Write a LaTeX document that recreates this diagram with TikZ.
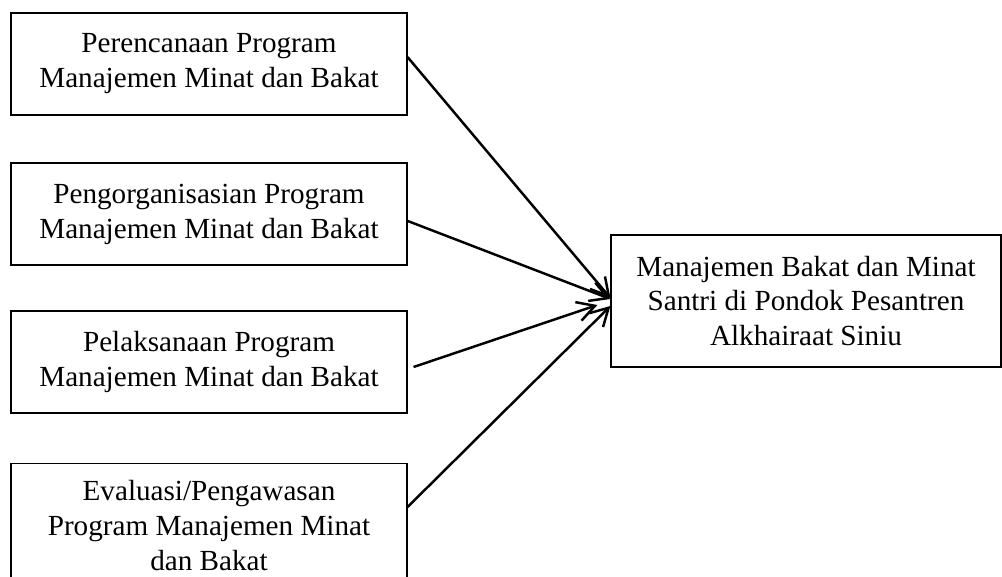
\documentclass[tikz,border=0pt]{standalone}
\usepackage{fontspec}
\setmainfont{Liberation Serif}
\usetikzlibrary{arrows.meta,calc,positioning}

\begin{document}
\begin{tikzpicture}[
  x=0.02cm, y=-0.02cm,
  font=\fontsize{16.6}{19.9}\selectfont,
  >={Straight Barb[length=0.35cm,width=0.39cm]},
  box/.style ={draw,rectangle,line width=0.7pt,minimum width=7.92cm,
               minimum height=2.04cm,align=center,inner sep=0pt},
  main/.style={draw,rectangle,line width=0.7pt,minimum width=7.8cm,
               minimum height=2.64cm,align=center,inner sep=0pt},
  link/.style={->,line width=1.4pt},
]
\useasboundingbox (0,0) rectangle (1002,577);
\clip (0,0) rectangle (1002,577);

%% =====================================================
%%  Program boxes (left column)
%% =====================================================
\node[box] (plan) at (209,64)  {Perencanaan Program\\Manajemen Minat dan Bakat};
\node[box] (org)  at (209,214) {Pengorganisasian Program\\Manajemen Minat dan Bakat};
\node[box] (exec) at (209,362) {Pelaksanaan Program\\Manajemen Minat dan Bakat};
\node[box,anchor=north,minimum height=2.46cm] (eval) at (209,463)
      {Evaluasi/Pengawasan\\Program Manajemen Minat\\dan Bakat};

%% =====================================================
%%  Target box (right)
%% =====================================================
\node[main] (santri) at (806,301)
      {Manajemen Bakat dan Minat\\Santri di Pondok Pesantren\\Alkhairaat Siniu};

%% =====================================================
%%  Arrows
%% =====================================================
\draw[link] (plan.2)  -- ($(santri.west)+(0,-3)$);
\draw[link] (org.-2)  -- ($(santri.west)+(0,-2)$);
\draw[link] ($(exec.east)+(6,5)$) -- ($(santri.west)+(-13,4)$);
\draw[link] ($(eval.north east)+(0,44)$) -- ($(santri.west)+(0,5)$);

\end{tikzpicture}
\end{document}
